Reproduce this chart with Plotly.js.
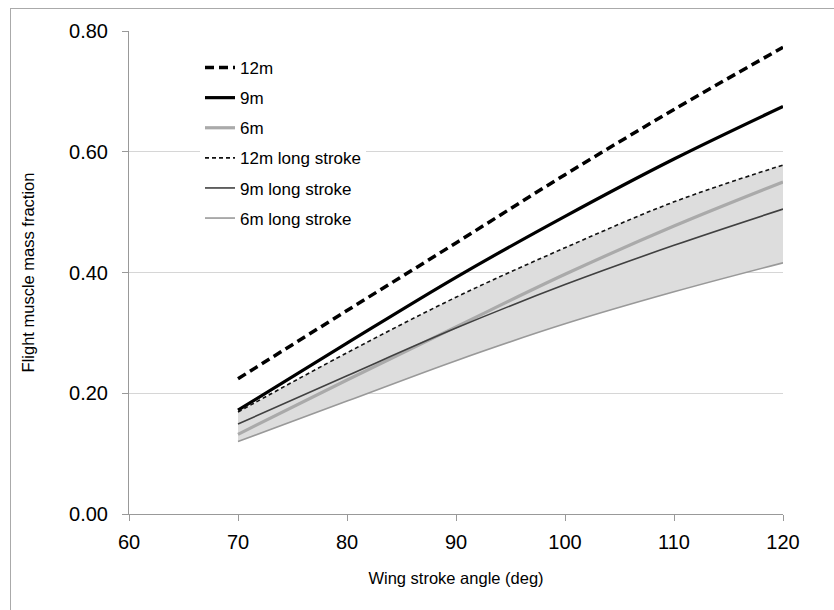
<!DOCTYPE html>
<html>
<head>
<meta charset="utf-8">
<script src="https://cdn.plot.ly/plotly-3.0.1.min.js"></script>
<style>html,body{margin:0;padding:0;background:#fff;}#chart{width:834px;height:610px;}</style>
</head>
<body>
<div id="chart"></div>
<script>
// Data
const strokeAngle = [70, 80, 90, 100, 110, 120];
const m12 = [0.224, 0.337, 0.449, 0.562, 0.670, 0.773];
const m9 = [0.172, 0.283, 0.392, 0.493, 0.588, 0.675];
const m6 = [0.132, 0.222, 0.310, 0.397, 0.477, 0.550];
const m12Long = [0.169, 0.267, 0.359, 0.441, 0.517, 0.578];
const m9Long = [0.149, 0.229, 0.308, 0.380, 0.445, 0.505];
const m6Long = [0.120, 0.187, 0.254, 0.315, 0.368, 0.416];
const seriesNames = ["12m", "9m", "6m", "12m long stroke", "9m long stroke", "6m long stroke"];
const xTicks = [60, 70, 80, 90, 100, 110, 120];
const yTicks = [0, 0.2, 0.4, 0.6, 0.8];
const yTickText = ["0.00", "0.20", "0.40", "0.60", "0.80"];

const FONT = "Liberation Sans, Arial, sans-serif";

const band = [
  {x: strokeAngle, y: m6Long, mode: "lines", line: {width: 0, shape: "spline"}, showlegend: false, hoverinfo: "skip"},
  {x: strokeAngle, y: m12Long, mode: "lines", line: {width: 0, shape: "spline"}, fill: "tonexty", fillcolor: "#dddddd", showlegend: false, hoverinfo: "skip"}
];

const styles = [
  {color: "#000000", width: 3.5, dash: "9px,5px"},
  {color: "#000000", width: 3.2, dash: "solid"},
  {color: "#aaaaaa", width: 3.2, dash: "solid"},
  {color: "#111111", width: 1.6, dash: "4px,3px"},
  {color: "#404040", width: 1.6, dash: "solid"},
  {color: "#999999", width: 1.6, dash: "solid"}
];
const ys = [m12, m9, m6, m12Long, m9Long, m6Long];

const lines = ys.map((y, i) => ({
  x: strokeAngle, y: y, mode: "lines", name: seriesNames[i],
  legendgroup: "g" + i,
  line: {color: styles[i].color, width: styles[i].width, dash: styles[i].dash, shape: "spline"}
}));

const L = 129, R = 51, T = 31, B = 96;
const W = 834, H = 610;
const pw = W - L - R, ph = H - T - B;
const px = v => (v - L) / pw;
const py = v => (H - B - v) / ph;

const layout = {
  width: W, height: H,
  margin: {l: L, r: R, t: T, b: B, pad: 0},
  paper_bgcolor: "#ffffff", plot_bgcolor: "#ffffff",
  font: {family: FONT, color: "#000"},
  showlegend: true,
  legend: {
    x: px(200), y: py(50), xanchor: "left", yanchor: "top",
    bgcolor: "#ffffff", borderwidth: 0,
    font: {family: FONT, size: 17, color: "#000"},
    traceorder: "grouped", tracegroupgap: 5,
    itemwidth: 30,
    entrywidth: 150, entrywidthmode: "pixels"
  },
  xaxis: {
    range: [60, 120], tickvals: xTicks, ticktext: xTicks.map(String),
    showgrid: false, zeroline: false,
    showline: true, linecolor: "#999999", linewidth: 1,
    ticks: "outside", ticklen: 6, tickcolor: "#999999",
    tickfont: {family: FONT, size: 20, color: "#000"},
    ticklabelstandoff: 4,
    title: {text: "Wing stroke angle (deg)", font: {family: FONT, size: 16.5, color: "#000"}, standoff: 20}
  },
  yaxis: {
    range: [0, 0.8], tickvals: yTicks, ticktext: yTickText,
    showgrid: true, gridcolor: "#d6d6d6", gridwidth: 1, zeroline: false,
    showline: true, linecolor: "#999999", linewidth: 1,
    ticks: "outside", ticklen: 6, tickcolor: "#999999",
    tickfont: {family: FONT, size: 20, color: "#000"},
    ticklabelstandoff: 10,
    title: {text: "Flight muscle mass fraction", font: {family: FONT, size: 16.5, color: "#000"}, standoff: 30}
  },
  shapes: [
    {type: "line", xref: "paper", yref: "paper", x0: px(10), x1: px(W + 5), y0: py(8.5), y1: py(8.5), line: {color: "#aaaaaa", width: 1}, layer: "below"},
    {type: "line", xref: "paper", yref: "paper", x0: px(10.5), x1: px(10.5), y0: py(8.5), y1: py(H + 5), line: {color: "#aaaaaa", width: 1}, layer: "below"}
  ]
};

Plotly.newPlot("chart", band.concat(lines), layout, {displayModeBar: false, staticPlot: true});
</script>
</body>
</html>
